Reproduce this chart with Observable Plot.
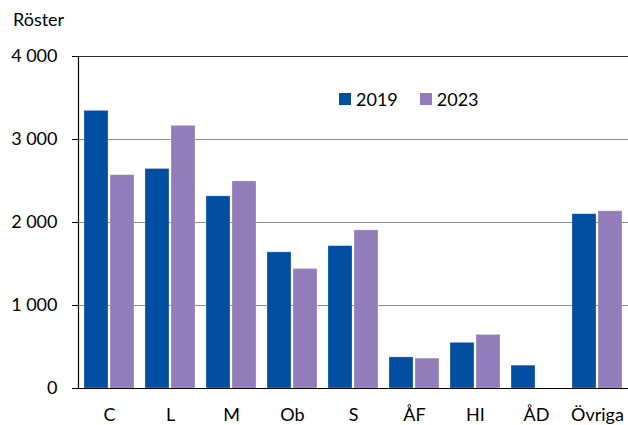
<!DOCTYPE html>
<html>
<head>
<meta charset="utf-8">
<script src="https://cdn.jsdelivr.net/npm/d3@7"></script>
<script src="https://cdn.jsdelivr.net/npm/@observablehq/plot@0.6"></script>
<style>
  html, body { margin: 0; padding: 0; background: #fff; overflow: hidden; }
  #wrap { position: relative; width: 628px; height: 425px; font-family: Lato, "Open Sans", sans-serif; color: #000; }
  #ylabel { position: absolute; left: 13px; top: 8px; font-size: 18px; }
  #legend { position: absolute; left: 339px; top: 88px; font-size: 18px; display: flex; align-items: center; }
  .sw { display: inline-block; width: 12px; height: 12px; margin-right: 5px; }
  .item { display: flex; align-items: center; margin-right: 22px; }
</style>
</head>
<body>
<div id="wrap">
  <div id="chart"></div>
  <div id="ylabel"></div>
  <div id="legend"></div>
</div>
<script>
const parties = ["C", "L", "M", "Ob", "S", "ÅF", "HI", "ÅD", "Övriga"];
const years = ["2019", "2023"];
const votes2019 = [3345, 2645, 2315, 1640, 1715, 375, 550, 275, 2100];
const votes2023 = [2570, 3165, 2495, 1440, 1905, 360, 645, null, 2135];
const yTicks = [0, 1000, 2000, 3000, 4000];
const colors = ["#024ea1", "#927cb9"];
const yTitle = "Röster";

const d2019 = parties.map((p, i) => ({party: p, year: years[0], value: votes2019[i]}));
const d2023 = parties.map((p, i) => ({party: p, year: years[1], value: votes2023[i]})).filter(d => d.value != null);

const fmt = v => d3.format(",")(v).replace(/,/g, " ");

const chart = Plot.plot({
  width: 628,
  height: 425,
  marginLeft: 78,
  marginRight: 0,
  marginTop: 56,
  marginBottom: 37,
  style: {fontFamily: "Lato, 'Open Sans', sans-serif", fontSize: "18px", color: "#000", background: "#fff"},
  x: {domain: parties, paddingInner: 0.18, paddingOuter: 0.09, label: null},
  y: {domain: [0, 4000], label: null},
  marks: [
    Plot.ruleY(yTicks.filter(t => t > 0 && t < 4000), {stroke: "#8a8a8a", strokeWidth: 1}),
    Plot.ruleY([4000], {stroke: "#2a2a2a", strokeWidth: 1}),
    Plot.barY(d2019, {x: "party", y: "value", fill: colors[0], insetRight: 26, stroke: "#ffffff", strokeOpacity: 0.35, strokeWidth: 0.8}),
    Plot.barY(d2023, {x: "party", y: "value", fill: colors[1], insetLeft: 26, stroke: "#ffffff", strokeOpacity: 0.35, strokeWidth: 0.8}),
    Plot.ruleY([0], {stroke: "#000", strokeWidth: 1.2}),
    Plot.axisY({ticks: yTicks, tickFormat: fmt, tickSize: 6, tickPadding: 15, label: null, stroke: "#000", fill: "#000"}),
    Plot.axisX({tickSize: 0, tickPadding: 20, label: null, fill: "#000"})
  ]
});
document.getElementById("chart").appendChild(chart);

// y axis line drawn through the y scale range
const ys = chart.scale("y");
d3.select(chart).append("line")
  .attr("x1", 78.5).attr("x2", 78.5)
  .attr("y1", ys.apply(4000)).attr("y2", ys.apply(0))
  .attr("stroke", "#000").attr("stroke-width", 1.2);

document.getElementById("ylabel").textContent = yTitle;
const legend = document.getElementById("legend");
years.forEach((y, i) => {
  const it = document.createElement("div");
  it.className = "item";
  const sw = document.createElement("span");
  sw.className = "sw";
  sw.style.background = colors[i];
  const t = document.createElement("span");
  t.textContent = y;
  it.appendChild(sw); it.appendChild(t);
  legend.appendChild(it);
});
</script>
</body>
</html>
